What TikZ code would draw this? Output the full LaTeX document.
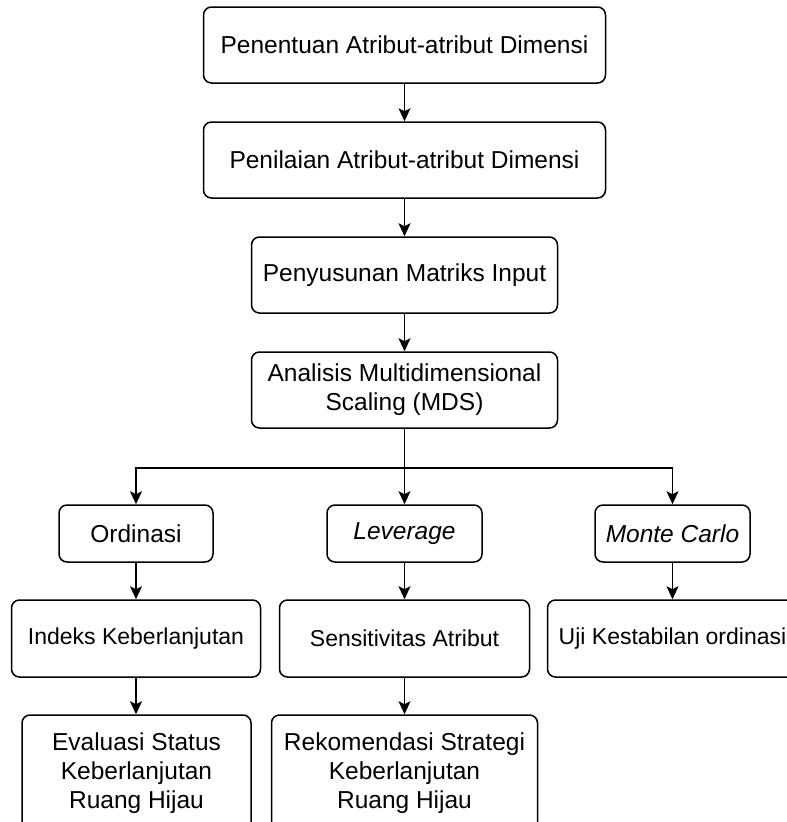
\documentclass[tikz,border=0pt]{standalone}
\usepackage{fontspec}
\setmainfont{Liberation Sans}
\usetikzlibrary{arrows.meta}

\tikzset{
  kotak/.style={draw, rounded corners=8pt, line width=1.5pt, align=center,
    inner sep=0pt, font=\fontsize{24.5}{29}\selectfont},
  kotakkecil/.style={kotak, font=\fontsize{23}{29}\selectfont},
  panah/.style={line width=1.5pt, -{Stealth[length=13pt,width=12pt,inset=3pt]}}
}

\begin{document}
\begin{tikzpicture}[x=1pt,y=-1pt]
    \path[use as bounding box, clip] (0,0) rectangle (787,822);
    % alur utama
    \node[kotak, minimum width=402, minimum height=76] (penentuan) at (404.5,45) {Penentuan Atribut-atribut Dimensi};
    \node[kotak, minimum width=402, minimum height=76] (penilaian) at (404.5,160) {Penilaian Atribut-atribut Dimensi};
    \node[kotak, minimum width=306, minimum height=76] (matriks) at (404.5,275) {Penyusunan Matriks Input};
    \node[kotak, minimum width=306, minimum height=76] (mds) at (404.5,390) {Analisis Multidimensional\\Scaling (MDS)};
    \draw[panah] (penentuan) -- (penilaian);
    \draw[panah] (penilaian) -- (matriks);
    \draw[panah] (matriks) -- (mds);
    %
    \node[kotak, minimum width=154, minimum height=57] (ordinasi) at (136,533.5) {Ordinasi};
    \node[kotak, minimum width=155, minimum height=57] (leverage) at (404.5,533.5) {\itshape Leverage};
    \node[kotak, minimum width=155, minimum height=57] (montecarlo) at (672.5,533.5) {\itshape Monte Carlo};
    \draw[line width=1.5pt] (mds.south) -- ++(0,39) coordinate (cabang);
    \draw[panah] (cabang) -| (ordinasi.north);
    \draw[panah] (cabang) -- (leverage.north);
    \draw[panah] (cabang) -| (montecarlo.north);
    %
    \node[kotakkecil, minimum width=249, minimum height=77] (indeks) at (136,638.5) {Indeks Keberlanjutan};
    \node[kotakkecil, minimum width=250, minimum height=77] (sensitivitas) at (404.5,638.5) {Sensitivitas Atribut};
    \node[kotakkecil, minimum width=250, minimum height=77] (uji) at (672.5,638.5) {Uji Kestabilan ordinasi};
    \draw[panah] (ordinasi) -- (indeks);
    \draw[panah] (leverage) -- (sensitivitas);
    \draw[panah] (montecarlo) -- (uji);
    %
    \node[kotak, minimum width=229, minimum height=116] (evaluasi) at (136.5,773) {Evaluasi Status\\Keberlanjutan\\Ruang Hijau};
    \node[kotak, minimum width=266, minimum height=116] (rekomendasi) at (404.5,773) {Rekomendasi Strategi\\Keberlanjutan\\Ruang Hijau};
    \draw[panah] (indeks) -- (evaluasi.north -| indeks);
    \draw[panah] (sensitivitas) -- (rekomendasi);
\end{tikzpicture}
\end{document}
